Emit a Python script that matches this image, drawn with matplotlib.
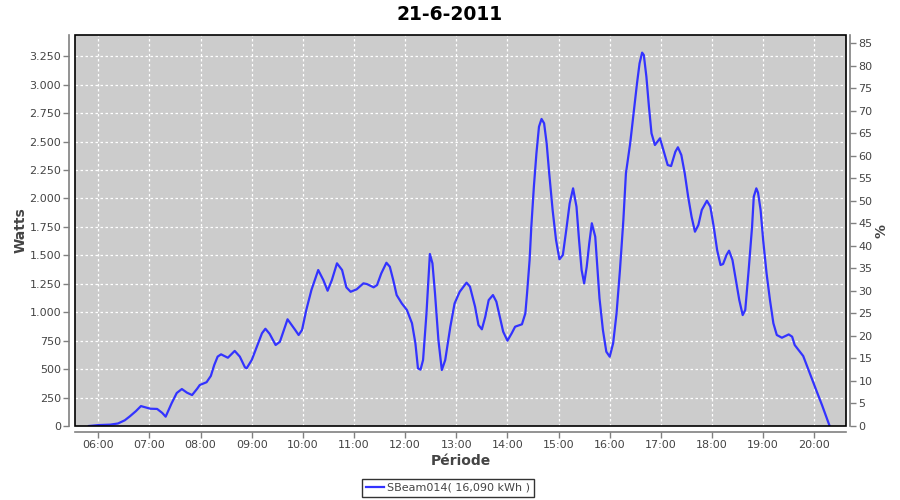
import matplotlib
matplotlib.use("Agg")
import matplotlib.pyplot as plt
from matplotlib.patches import Rectangle
from matplotlib.ticker import FuncFormatter, FixedLocator

title = "21-6-2011"
series_name = "SBeam014( 16,090 kWh )"
x_label = "Période"
y_label = "Watts"
y2_label = "%"

times = ["05:49", "06:00", "06:14", "06:23", "06:31", "06:37", "06:44", "06:50", "07:01", "07:09",
         "07:15", "07:19", "07:26", "07:32", "07:38", "07:44", "07:50", "07:56", "07:59", "08:07",
         "08:12", "08:16", "08:20", "08:24", "08:32", "08:40", "08:46", "08:52", "08:54", "09:00",
         "09:06", "09:12", "09:16", "09:21", "09:28", "09:33", "09:42", "09:51", "09:55", "09:59",
         "10:04", "10:10", "10:18", "10:24", "10:29", "10:34", "10:40", "10:46", "10:51", "10:56",
         "11:03", "11:11", "11:15", "11:23", "11:27", "11:32", "11:38", "11:42", "11:46", "11:50",
         "11:56", "12:02", "12:08", "12:12", "12:15", "12:18", "12:21", "12:25", "12:29", "12:32",
         "12:35", "12:39", "12:43", "12:47", "12:53", "12:58", "13:04", "13:12", "13:16", "13:22",
         "13:26", "13:30", "13:34", "13:38", "13:43", "13:47", "13:51", "13:55", "14:00", "14:05",
         "14:09", "14:17", "14:21", "14:23", "14:26", "14:28", "14:31", "14:34", "14:37", "14:40",
         "14:43", "14:46", "14:49", "14:53", "14:57", "15:01", "15:05", "15:09", "15:13", "15:17",
         "15:21", "15:24", "15:27", "15:30", "15:33", "15:36", "15:39", "15:43", "15:48", "15:52",
         "15:56", "16:00", "16:04", "16:08", "16:12", "16:16", "16:19", "16:24", "16:28", "16:32",
         "16:35", "16:38", "16:40", "16:43", "16:46", "16:49", "16:53", "16:59", "17:03", "17:08",
         "17:12", "17:17", "17:20", "17:24", "17:28", "17:32", "17:36", "17:40", "17:44", "17:48",
         "17:54", "17:58", "18:02", "18:06", "18:10", "18:13", "18:17", "18:20", "18:24", "18:28",
         "18:32", "18:36", "18:39", "18:43", "18:47", "18:49", "18:52", "18:54", "18:57", "19:00",
         "19:04", "19:08", "19:12", "19:16", "19:22", "19:30", "19:34", "19:37", "19:43", "19:47",
         "19:51", "19:57", "20:03", "20:09", "20:14", "20:18"]

watts = [0, 8, 12, 22, 50, 85, 130, 175, 152, 150,
         115, 82, 200, 290, 325, 293, 272, 328, 360, 385,
         440, 536, 610, 630, 600, 660, 610, 516, 507, 580,
         697, 815, 855, 810, 712, 740, 938, 844, 800, 844,
         1020, 1195, 1371, 1283, 1189, 1283, 1430, 1371, 1219, 1180,
         1201, 1254, 1248, 1219, 1239, 1342, 1435, 1400, 1283, 1151,
         1078, 1020, 903, 727, 507, 495, 580, 990, 1512, 1430,
         1166, 756, 492, 580, 873, 1078, 1180, 1260, 1225, 1049,
         888, 850, 961, 1107, 1151, 1093, 961, 829, 750, 815,
         873, 894, 990, 1166, 1459, 1752, 2103, 2397, 2631, 2699,
         2661, 2485, 2221, 1899, 1635, 1465, 1503, 1723, 1957, 2089,
         1928, 1635, 1371, 1254, 1400, 1606, 1782, 1664, 1122, 844,
         653, 609, 727, 990, 1371, 1811, 2221, 2485, 2749, 3012,
         3188, 3282, 3261, 3071, 2807, 2573, 2470, 2529, 2426, 2294,
         2285, 2411, 2450, 2382, 2221, 2016, 1840, 1708, 1767, 1899,
         1980, 1928, 1752, 1547, 1415, 1424, 1503, 1541, 1459, 1283,
         1107, 975, 1020, 1371, 1752, 2016, 2089, 2051, 1899, 1635,
         1342, 1107, 903, 800, 776, 805, 785, 712, 653, 615,
         536, 419, 301, 185, 82, 0]

x_ticks = ["06:00", "07:00", "08:00", "09:00", "10:00", "11:00", "12:00", "13:00",
           "14:00", "15:00", "16:00", "17:00", "18:00", "19:00", "20:00"]
y_ticks = [0, 250, 500, 750, 1000, 1250, 1500, 1750, 2000, 2250, 2500, 2750, 3000, 3250]
y2_ticks = [0, 5, 10, 15, 20, 25, 30, 35, 40, 45, 50, 55, 60, 65, 70, 75, 80, 85]


def to_hours(s):
    h, m = s.split(":")
    return int(h) + int(m) / 60.0


hours = [to_hours(t) for t in times]
tick_hours = [to_hours(t) for t in x_ticks]

plt.rcParams['font.family'] = ['DejaVu Sans']
fig = plt.figure(figsize=(9, 5), dpi=100)
ax = fig.add_axes([75 / 900, 1 - 426 / 500, (846 - 75) / 900, (426 - 35) / 500])
ax.set_facecolor('#cccccc')

line, = ax.plot(hours, watts, color='#3333ff', lw=1.6, label=series_name, zorder=3)

ax.set_xlim(5.544, 20.62)
ax.set_ylim(0, 3437)
ax.xaxis.set_major_locator(FixedLocator(tick_hours))
ax.set_xticklabels(x_ticks)
ax.yaxis.set_major_locator(FixedLocator(y_ticks))
ax.yaxis.set_major_formatter(FuncFormatter(lambda v, p: f"{int(v):,}".replace(",", ".")))

ax.grid(True, color='white', linestyle=(0, (2, 2)), linewidth=0.9)
ax.set_axisbelow(True)

grey = '#808080'
lab = '#444444'
for side in ['top', 'right']:
    ax.spines[side].set_visible(False)
for side in ['left', 'bottom']:
    ax.spines[side].set_position(('outward', 4))
    ax.spines[side].set_color(grey)
    ax.spines[side].set_linewidth(1.2)
ax.tick_params(axis='both', colors=grey, labelcolor=lab, labelsize=8, length=4, width=1, direction='out', pad=2)

ax2 = ax.twinx()
ax2.set_ylim(0, 86.85)
ax2.yaxis.set_major_locator(FixedLocator(y2_ticks))
for side in ['top', 'left', 'bottom']:
    ax2.spines[side].set_visible(False)
ax2.spines['right'].set_position(('outward', 3))
ax2.spines['right'].set_color(grey)
ax2.spines['right'].set_linewidth(1.2)
ax2.tick_params(axis='y', colors=grey, labelcolor=lab, labelsize=8, length=4, width=1, direction='out', pad=2)

ax.add_patch(Rectangle((0, 0), 1, 1, transform=ax.transAxes, fill=False,
                       edgecolor='black', linewidth=1.2, clip_on=False, zorder=5))

fig.text(0.5, 1 - 14 / 500, title, ha='center', va='center', fontsize=13.5, fontweight='bold', color='black')
ax.set_xlabel(x_label, fontsize=10, color=lab, fontweight='bold', labelpad=3)
ax.set_ylabel(y_label, fontsize=10, color=lab, fontweight='bold', labelpad=1)
ax2.set_ylabel(y2_label, fontsize=10, color=lab, fontweight='bold', labelpad=1)

leg = fig.legend(handles=[line], loc='center', bbox_to_anchor=(448 / 900, 1 - 488 / 500),
                 fontsize=8, frameon=True, fancybox=False, edgecolor='black',
                 handlelength=1.6, handletextpad=0.3, borderpad=0.35, borderaxespad=0)
leg.get_frame().set_linewidth(1.0)
for t in leg.get_texts():
    t.set_color(lab)

fig.savefig("out.png", dpi=100, facecolor='white')
